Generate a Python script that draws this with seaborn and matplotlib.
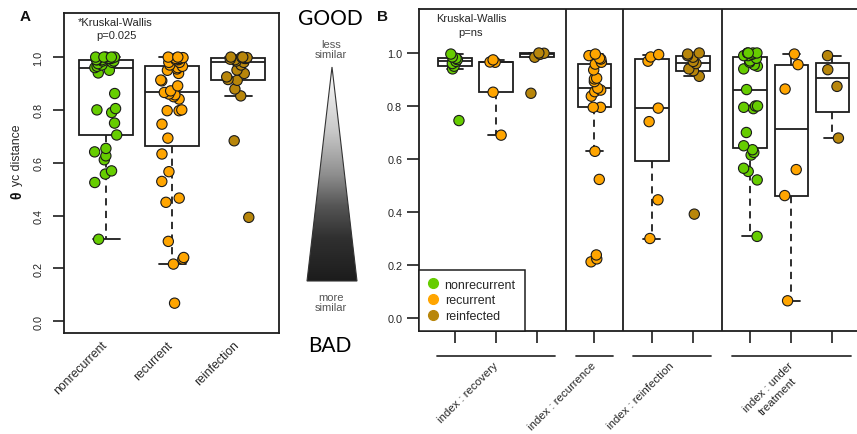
import numpy as np
import pandas as pd
import matplotlib
matplotlib.use("Agg")
import matplotlib.pyplot as plt
import matplotlib.transforms as mtransforms
from matplotlib.colors import LinearSegmentedColormap
from matplotlib.lines import Line2D
from matplotlib.patches import Polygon
import seaborn as sns

# ---------------------------------------------------------------- data
# Panel A: theta_yc distance per outcome group
a_categories = ["nonrecurrent", "recurrent", "reinfection"]
a_status = ["nonrecurrent", "recurrent", "reinfected"]
a_nonrecurrent = [0.31, 0.525, 0.557, 0.569, 0.611, 0.626, 0.641, 0.654, 0.705,
                  0.75, 0.79, 0.80, 0.805, 0.862, 0.94, 0.95, 0.96, 0.965, 0.97,
                  0.975, 0.98, 0.985, 0.985, 0.99, 0.99, 0.99, 0.995, 0.995,
                  1.0, 1.0, 1.0, 1.0, 1.0]
a_recurrent = [0.068, 0.216, 0.235, 0.241, 0.302, 0.45, 0.466, 0.529, 0.566,
               0.633, 0.693, 0.746, 0.797, 0.797, 0.80, 0.841, 0.85, 0.857,
               0.86, 0.866, 0.872, 0.891, 0.91, 0.913, 0.938, 0.95, 0.955,
               0.96, 0.965, 0.97, 0.98, 0.98, 0.99, 0.99, 0.995, 0.995, 0.998,
               1.0, 1.0]
a_reinfection = [0.393, 0.683, 0.853, 0.879, 0.912, 0.915, 0.925, 0.938, 0.951,
                 0.97, 0.98, 0.985, 0.99, 0.992, 0.995, 0.995, 0.997, 0.998,
                 1.0, 1.0, 1.0]

# Panel B: pairs grouped by the index episode
b_groups = ["index : recovery", "index : recurrence", "index : reinfection",
            "index : under\ntreatment"]
recovery_nonrecurrent = [0.745, 0.94, 0.95, 0.96, 0.968, 0.975, 0.98, 0.985, 0.996]
recovery_recurrent = [0.69, 0.852, 0.965, 0.966, 0.974]
recovery_reinfected = [0.848, 0.984, 0.995, 0.999, 1.0]
recurrence_recurrent = [0.212, 0.223, 0.238, 0.523, 0.629, 0.795, 0.795, 0.837,
                        0.854, 0.86, 0.867, 0.892, 0.902, 0.905, 0.936, 0.958,
                        0.965, 0.977, 0.98, 0.99, 0.996]
reinfection_recurrent = [0.30, 0.446, 0.741, 0.792, 0.969, 0.985, 0.994]
reinfection_reinfected = [0.392, 0.912, 0.933, 0.94, 0.96, 0.968, 0.984, 0.99,
                          0.996, 1.0]
treatment_nonrecurrent = [0.308, 0.521, 0.553, 0.565, 0.615, 0.625, 0.635, 0.65,
                          0.70, 0.79, 0.795, 0.80, 0.80, 0.862, 0.94, 0.95, 0.955,
                          0.965, 0.97, 0.98, 0.99, 0.99, 0.995, 1.0, 1.0, 1.0, 1.0]
treatment_recurrent = [0.065, 0.462, 0.56, 0.864, 0.956, 0.996]
treatment_reinfected = [0.679, 0.874, 0.937, 0.99]

status_labels = ["nonrecurrent", "recurrent", "reinfected"]
status_colors = ["#66CD00", "#FFA500", "#B8860B"]
y_ticks = [0.0, 0.2, 0.4, 0.6, 0.8, 1.0]
y_tick_labels = ["0.0", "0.2", "0.4", "0.6", "0.8", "1.0"]

# ---------------------------------------------------------------- layout
b_boxes = [
    (0, "nonrecurrent", recovery_nonrecurrent),
    (0, "recurrent", recovery_recurrent),
    (0, "reinfected", recovery_reinfected),
    (1, "recurrent", recurrence_recurrent),
    (2, "recurrent", reinfection_recurrent),
    (2, "reinfected", reinfection_reinfected),
    (3, "nonrecurrent", treatment_nonrecurrent),
    (3, "recurrent", treatment_recurrent),
    (3, "reinfected", treatment_reinfected),
]
b_positions = [1, 2, 3, 4.4, 5.8, 6.8, 8.2, 9.2, 10.2]
a_positions = [1, 2, 3]
BOX_W = 0.82

LINE = "#1e1e1e"
TEXT = "#262626"
palette = dict(zip(status_labels, status_colors))

sns.set_theme(style="ticks")
plt.rcParams["font.family"] = ["Liberation Sans", "DejaVu Sans"]
plt.rcParams["axes.edgecolor"] = LINE
plt.rcParams["axes.linewidth"] = 1.3
np.random.seed(11)

W, H = 857, 435
fig = plt.figure(figsize=(W / 100, H / 100), dpi=100)


def px_axes(left, top, right, bottom, **kw):
    return fig.add_axes([left / W, 1 - bottom / H, (right - left) / W,
                         (bottom - top) / H], **kw)


def tukey_stats(values, coef=1.5):
    """Five-number summary with Tukey hinges and 1.5*IQR whiskers."""
    v = np.sort(np.asarray(values, float))
    n = len(v)
    n4 = np.floor((n + 3) / 2) / 2
    d = np.array([1, n4, (n + 1) / 2, n + 1 - n4, n]) - 1
    five = 0.5 * (v[np.floor(d).astype(int)] + v[np.ceil(d).astype(int)])
    lo, med, hi = five[1], five[2], five[3]
    iqr = hi - lo
    inside = v[(v >= lo - coef * iqr) & (v <= hi + coef * iqr)]
    return dict(med=med, q1=lo, q3=hi, whislo=inside.min(), whishi=inside.max(),
                fliers=[])


def draw_boxes(ax, groups, positions):
    stats = [tukey_stats(g) for g in groups]
    ax.bxp(stats, positions=positions, widths=BOX_W, showfliers=False,
           patch_artist=True, manage_ticks=False,
           boxprops=dict(facecolor="white", edgecolor=LINE, linewidth=1.3),
           medianprops=dict(color=LINE, linewidth=1.3),
           whiskerprops=dict(color=LINE, linewidth=1.3, linestyle=(0, (4, 3))),
           capprops=dict(color=LINE, linewidth=1.3))


def draw_points(ax, frame):
    sns.stripplot(data=frame, x="pos", y="value", hue="status",
                  hue_order=status_labels, palette=palette, native_scale=True,
                  orient="x", jitter=0.18, size=7.4, linewidth=0.8,
                  edgecolor="#1a1a1a", legend=False, ax=ax, zorder=3)
    ax.set_xlabel("")
    ax.set_ylabel("")


def slanted_label(ax, x, y_axes, text, size):
    tr = mtransforms.blended_transform_factory(ax.transData, ax.transAxes)
    ax.text(x, y_axes, text, transform=tr, rotation=45, rotation_mode="anchor",
            ha="right", va="top", multialignment="center", linespacing=1.35,
            fontsize=size, color=TEXT, clip_on=False)


# ---------------------------------------------------------------- overlay
ov = fig.add_axes([0, 0, 1, 1])
ov.set_axis_off()
ov.set_xlim(0, W)
ov.set_ylim(H, 0)

tri = Polygon([[332, 68], [307, 282], [357, 282]], closed=True,
              facecolor="none", edgecolor="#333333", linewidth=0.8, zorder=2)
ov.add_patch(tri)
shade = LinearSegmentedColormap.from_list(
    "shade", [(0.0, "#ffffff"), (0.3, "#c8c8c8"), (0.5, "#8f8f8f"),
              (0.65, "#555555"), (0.8, "#303030"), (1.0, "#1c1c1c")])
grad = np.linspace(0, 1, 256).reshape(-1, 1)
im = ov.imshow(grad, cmap=shade, extent=[307, 357, 282, 68], aspect="auto",
               origin="upper", zorder=1)
im.set_clip_path(tri)
ov.set_xlim(0, W)
ov.set_ylim(H, 0)

ov.text(330, 19, "GOOD", ha="center", va="center", fontsize=15,
        family=["Lato", "DejaVu Sans"], color="black")
ov.text(330, 346, "BAD", ha="center", va="center", fontsize=15,
        family=["Lato", "DejaVu Sans"], color="black")
ov.text(331, 50, "less\nsimilar", ha="center", va="center", fontsize=8,
        color="#555555", linespacing=1.05)
ov.text(331, 303, "more\nsimilar", ha="center", va="center", fontsize=8,
        color="#555555", linespacing=1.05)
ov.text(25, 17, "A", ha="center", va="center", fontsize=11, fontweight="bold",
        color="#111111")
ov.text(383, 17, "B", ha="center", va="center", fontsize=11, fontweight="bold",
        color="#111111")
ov.text(17, 199, "θ", rotation=90, rotation_mode="anchor", ha="left",
        va="center", fontsize=10, fontweight="bold", color="#111111")
ov.text(17, 186, "yc distance", rotation=90, rotation_mode="anchor", ha="left",
        va="center", fontsize=8.8, color=TEXT)

# ---------------------------------------------------------------- panel A
axA = px_axes(64, 14, 279, 334)
a_values = [a_nonrecurrent, a_recurrent, a_reinfection]
draw_boxes(axA, a_values, a_positions)
dfA = pd.DataFrame({
    "pos": np.concatenate([[p] * len(v) for p, v in zip(a_positions, a_values)]),
    "value": np.concatenate(a_values),
    "status": np.concatenate([[s] * len(v) for s, v in zip(a_status, a_values)]),
})
draw_points(axA, dfA)
axA.set_xlim(0.36, 3.62)
axA.set_ylim(-0.045, 1.167)
axA.set_yticks(y_ticks, y_tick_labels)
axA.set_xticks([])
axA.tick_params(axis="y", length=8, width=1.2, pad=7, labelsize=7.8,
                labelrotation=90, colors=LINE, labelcolor=TEXT)
for lab in axA.get_yticklabels():
    lab.set_va("center")
for p, name in zip(a_positions, a_categories):
    slanted_label(axA, p - 0.08, -0.018, name, 8.8)
for s in axA.spines.values():
    s.set_visible(True)
axA.text(0.237, 0.972, "*Kruskal-Wallis", transform=axA.transAxes, ha="center",
         va="center", fontsize=8, color=TEXT)
axA.text(0.245, 0.931, "p=0.025", transform=axA.transAxes, ha="center",
         va="center", fontsize=8, color=TEXT)

# ---------------------------------------------------------------- panel B
axB = px_axes(419, 10, 859, 332)
b_values = [v for _, _, v in b_boxes]
draw_boxes(axB, b_values, b_positions)
dfB = pd.DataFrame({
    "pos": np.concatenate([[p] * len(v) for p, v in zip(b_positions, b_values)]),
    "value": np.concatenate(b_values),
    "status": np.concatenate([[s] * len(v) for _, s, v in b_boxes]),
})
draw_points(axB, dfB)
axB.set_xlim(0.122, 10.85)
axB.set_ylim(-0.049, 1.166)
axB.set_yticks(y_ticks, y_tick_labels)
axB.set_xticks(b_positions, [""] * len(b_positions))
axB.tick_params(axis="y", length=8.6, width=1.2, pad=3.5, labelsize=7.8,
                colors=LINE, labelcolor=TEXT)
axB.tick_params(axis="x", length=8.6, width=1.2, colors=LINE)
for s in axB.spines.values():
    s.set_visible(True)

# separators between index groups, group brackets and their labels
group_of = [g for g, _, _ in b_boxes]
blend = mtransforms.blended_transform_factory(axB.transData, axB.transAxes)
for g, name in enumerate(b_groups):
    ps = [p for p, gg in zip(b_positions, group_of) if gg == g]
    axB.plot([ps[0] - 0.45, ps[-1] + 0.45], [-0.078, -0.078], transform=blend,
             clip_on=False, color="#333333", linewidth=1.3)
    slanted_label(axB, (ps[0] + ps[-1]) / 2 - 0.08, -0.09, name, 8.2)
    if g > 0:
        prev = [p for p, gg in zip(b_positions, group_of) if gg == g - 1][-1]
        axB.axvline((prev + ps[0]) / 2, color=LINE, linewidth=1.3, zorder=1)

axB.text(0.118, 0.972, "Kruskal-Wallis", transform=axB.transAxes, ha="center",
         va="center", fontsize=8, color=TEXT)
axB.text(0.118, 0.929, "p=ns", transform=axB.transAxes, ha="center",
         va="center", fontsize=8, color=TEXT)

handles = [Line2D([], [], marker="o", linestyle="", markersize=7,
                  markerfacecolor=c, markeredgecolor=c, label=l)
           for l, c in zip(status_labels, status_colors)]
leg = axB.legend(handles=handles, loc="lower left", bbox_to_anchor=(0, 0),
                 borderaxespad=0, frameon=True, fancybox=False, fontsize=9,
                 handlelength=0.8, handletextpad=0.55, borderpad=0.7,
                 labelspacing=0.3, labelcolor=TEXT)
leg.get_frame().set_edgecolor(LINE)
leg.get_frame().set_linewidth(1.1)
leg.get_frame().set_alpha(1)

fig.savefig("out.png", dpi=100)
